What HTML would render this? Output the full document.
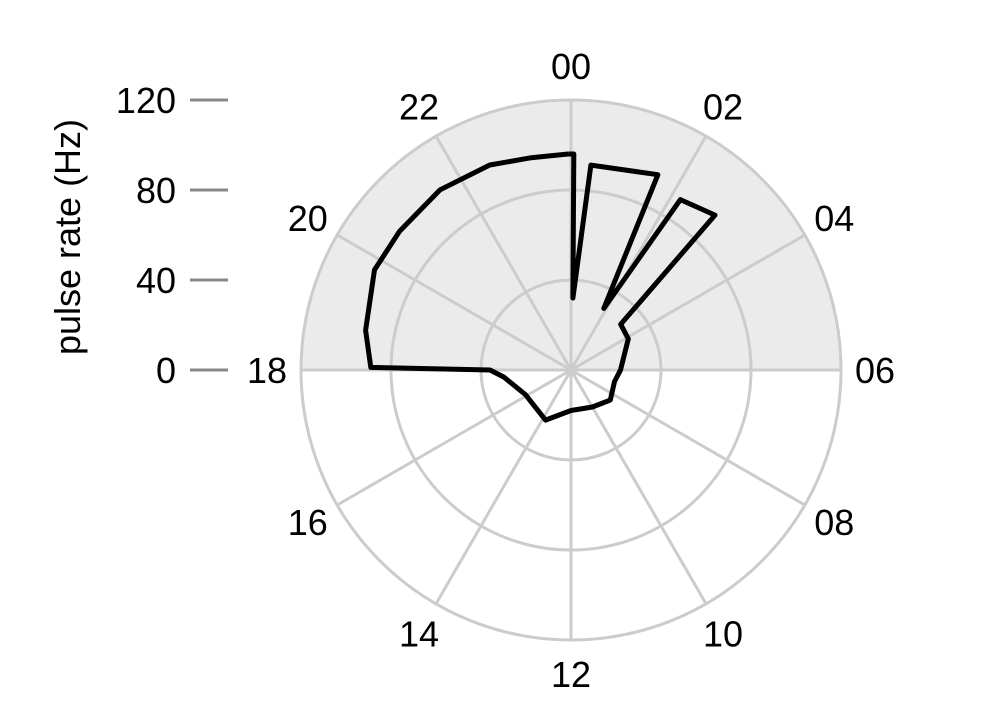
<!DOCTYPE html>
<html><head><meta charset="utf-8"><style>
html,body{margin:0;padding:0;background:#fff;}
svg{display:block;font-family:"Liberation Sans",Arial,sans-serif;}
</style></head><body>
<svg id="chart" width="990" height="718" viewBox="0 0 990 718"></svg>
<script>
const hours=[23.95,0.05,0.1,0.37,1.6,1.87,2.18,2.86,3.16,4.1,6,7,8.5,10,12,13.8,16.1,17.6,18,18.05,18.73,19.8,20.6,21.6,22.56,23.27,23.95];
const rates=[96,96,32,91.5,95,31,90,94,30,29,22,20,22,19,18,25,23,30,36,89,93,98,98,99,98,96,96];
const ringTicks=[0,40,80,120];
const hourLabels=["00","02","04","06","08","10","12","14","16","18","20","22"];
const NS="http://www.w3.org/2000/svg";
const svg=document.getElementById('chart');
const cx=571,cy=370,R=270,rMax=120;
function rScale(v){return v/rMax*R;}
function pt(h,v){const a=h/24*2*Math.PI;const r=rScale(v);return [cx+r*Math.sin(a),cy-r*Math.cos(a)];}
function mk(tag,attrs,name){const e=document.createElementNS(NS,tag);for(const k in attrs)e.setAttribute(k,attrs[k]);


svg.appendChild(e);return e;}
mk('path',{d:`M${cx-R},${cy} A${R},${R} 0 0 1 ${cx+R},${cy} Z`,fill:'#ebebeb'},'daytime-shade');
ringTicks.slice(1).forEach(v=>{mk('circle',{cx:cx,cy:cy,r:rScale(v),fill:'none',stroke:'#cccccc','stroke-width':3},'grid-ring-'+v);});
for(let i=0;i<12;i++){const [x,y]=pt(i*2,rMax);mk('line',{x1:cx,y1:cy,x2:x,y2:y,stroke:'#cccccc','stroke-width':3},'spoke-'+hourLabels[i]);}
hourLabels.forEach((l,i)=>{const a=i*2/24*2*Math.PI;const rr=R+34;const x=cx+rr*Math.sin(a),y=cy-rr*Math.cos(a);
const t=mk('text',{x:x,y:y+13,'font-size':36,'text-anchor':'middle',fill:'#000'},'hour-label-'+l);t.textContent=l;});
ringTicks.forEach(v=>{const y=cy-rScale(v);
mk('line',{x1:190,y1:y,x2:228,y2:y,stroke:'#888','stroke-width':3},'y-tick-'+v);
const t=mk('text',{x:176,y:y+13,'font-size':36,'text-anchor':'end',fill:'#000'},'y-tick-label-'+v);t.textContent=v;});
const yt=mk('text',{x:0,y:0,'font-size':36,'text-anchor':'middle',fill:'#000',transform:'translate(80,237) rotate(-90)'},'y-axis-title');yt.textContent='pulse rate (Hz)';
const d=hours.map((h,i)=>{const [x,y]=pt(h,rates[i]);return (i?'L':'M')+x.toFixed(1)+','+y.toFixed(1);}).join(' ');
mk('path',{d:d,fill:'none',stroke:'#000','stroke-width':5,'stroke-linejoin':'round'},'pulse-rate-line');
</script>
</body></html>
